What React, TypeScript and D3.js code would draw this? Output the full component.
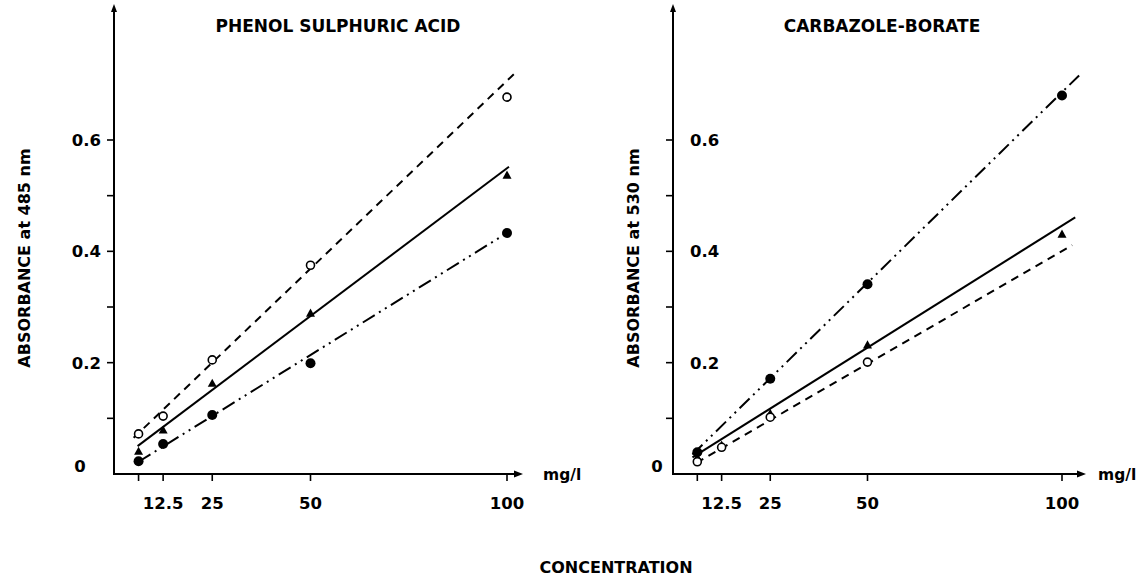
import React from "react";
import * as d3 from "d3";

const concentrations = [6.25, 12.5, 25, 50, 100];
const xTickValues = [6.25, 12.5, 25, 50, 100];
const xTickLabels = ["", "12.5", "25", "50", "100"];
const yTickValues = [0, 0.1, 0.2, 0.3, 0.4, 0.5, 0.6];
const yTickLabels = ["0", "", "0.2", "", "0.4", "", "0.6"];

// Phenol sulphuric acid (485 nm)
const phenolOpen = [0.072, 0.104, 0.205, 0.375, 0.677];
const phenolTriangle = [0.041, 0.079, 0.163, 0.289, 0.537];
const phenolFilled = [0.023, 0.054, 0.106, 0.199, 0.433];
// fitted lines: [xStart, yStart, xEnd, yEnd]
const phenolOpenLine = [5, 0.065, 102, 0.72];
const phenolTriangleLine = [6, 0.05, 100.5, 0.552];
const phenolFilledLine = [6.25, 0.022, 100, 0.433];

// Carbazole-borate (530 nm)
const carbFilled = [0.039, null, 0.171, 0.341, 0.68];
const carbTriangle = [0.03, 0.052, 0.109, 0.232, 0.431];
const carbOpen = [0.022, 0.048, 0.102, 0.201, null];
const carbFilledLine = [5, 0.035, 104.4, 0.716];
const carbTriangleLine = [5, 0.03, 103.4, 0.461];
const carbOpenLine = [6, 0.02, 102.6, 0.411];

const FONT = "'DejaVu Sans', sans-serif";
const DASHED = "8 6";
const DASHDOTDOT = "14 5 2 5 2 5";

type Series = { values: (number | null)[]; line: number[]; marker: string; dash: string | null };

function Marker({ kind, x, y }: { kind: string; x: number; y: number }) {
  if (kind === "open") return <circle cx={x} cy={y} r={4} fill="#fff" stroke="#000" strokeWidth={1.6} />;
  if (kind === "filled") return <circle cx={x} cy={y} r={5} fill="#000" />;
  const s = 4.5;
  return <path d={`M${x},${y - s}L${x + s},${y + s * 0.8}L${x - s},${y + s * 0.8}Z`} fill="#000" />;
}

function Panel(props: {
  x0: number; x100: number; yZero: number; ySixth: number; axisTop: number; axisRight: number;
  title: string; titleX: number; yLabel: string; yLabelX: number; labelsInside: boolean;
  zeroLabelX: number; unitX: number; series: Series[];
}) {
  const x = d3.scaleLinear().domain([0, 100]).range([props.x0, props.x100]);
  const y = d3.scaleLinear().domain([0, 0.6]).range([props.yZero, props.ySixth]);
  const ax = props.x0;
  const ay = props.yZero;
  return (
    <g>
      <text x={props.titleX} y={32} textAnchor="middle" fontFamily={FONT} fontWeight="bold" fontSize={17}>{props.title}</text>
      <text transform={`translate(${props.yLabelX},258) rotate(-90)`} textAnchor="middle" fontFamily={FONT} fontWeight="bold" fontSize={16}>{props.yLabel}</text>
      {/* axes */}
      <line x1={ax} y1={ay + 1} x2={ax} y2={props.axisTop + 6} stroke="#000" strokeWidth={2} />
      <path d={`M${ax},${props.axisTop}L${ax - 3},${props.axisTop + 8}L${ax + 3},${props.axisTop + 8}Z`} fill="#000" />
      <line x1={ax - 1} y1={ay} x2={props.axisRight - 6} y2={ay} stroke="#000" strokeWidth={2} />
      <path d={`M${props.axisRight},${ay}L${props.axisRight - 9},${ay - 3.5}L${props.axisRight - 9},${ay + 3.5}Z`} fill="#000" />
      {yTickValues.map((v, i) => (
        <g key={"y" + i}>
          {v > 0 && <line x1={ax - 7} x2={ax} y1={y(v)} y2={y(v)} stroke="#000" strokeWidth={1.6} />}
          {yTickLabels[i] && (
            <text
              x={v === 0 ? props.zeroLabelX : props.labelsInside ? ax + 17 : ax - 13}
              y={v === 0 ? y(v) - 2 : y(v) + 6}
              textAnchor={v === 0 ? "middle" : props.labelsInside ? "start" : "end"}
              fontFamily={FONT} fontWeight="bold" fontSize={16.5}
            >{yTickLabels[i]}</text>
          )}
        </g>
      ))}
      {xTickValues.map((v, i) => (
        <g key={"x" + i}>
          <line x1={x(v)} x2={x(v)} y1={ay} y2={ay + 7} stroke="#000" strokeWidth={1.6} />
          {xTickLabels[i] && (
            <text x={x(v)} y={509} textAnchor="middle" fontFamily={FONT} fontWeight="bold" fontSize={16.5}>{xTickLabels[i]}</text>
          )}
        </g>
      ))}
      <text x={props.unitX} y={480} fontFamily={FONT} fontWeight="bold" fontSize={15.5}>mg/l</text>
      {props.series.map((s, si) => (
        <g key={"s" + si}>
          <line
            x1={x(s.line[0])} y1={y(s.line[1])} x2={x(s.line[2])} y2={y(s.line[3])}
            stroke="#000" strokeWidth={2} strokeDasharray={s.dash ?? undefined}
          />
          {s.values.map((v, i) =>
            v === null ? null : <Marker key={i} kind={s.marker} x={x(concentrations[i])} y={y(v)} />
          )}
        </g>
      ))}
    </g>
  );
}

export default function App() {
  return (
    <svg width={1143} height={579} style={{ position: "absolute", left: 0, top: 0, background: "#fff" }}>
      <rect width={1143} height={579} fill="#fff" />
      <Panel
        x0={114} x100={507} yZero={474} ySixth={140} axisTop={4} axisRight={523}
        title="PHENOL SULPHURIC ACID" titleX={338} yLabel="ABSORBANCE at 485 nm" yLabelX={30}
        labelsInside={false} zeroLabelX={80} unitX={543}
        series={[
          { values: phenolOpen, line: phenolOpenLine, marker: "open", dash: DASHED },
          { values: phenolTriangle, line: phenolTriangleLine, marker: "triangle", dash: null },
          { values: phenolFilled, line: phenolFilledLine, marker: "filled", dash: DASHDOTDOT },
        ]}
      />
      <Panel
        x0={673} x100={1062} yZero={474} ySixth={140} axisTop={4} axisRight={1086}
        title="CARBAZOLE-BORATE" titleX={882} yLabel="ABSORBANCE at 530 nm" yLabelX={639}
        labelsInside={true} zeroLabelX={657} unitX={1098}
        series={[
          { values: carbFilled, line: carbFilledLine, marker: "filled", dash: DASHDOTDOT },
          { values: carbTriangle, line: carbTriangleLine, marker: "triangle", dash: null },
          { values: carbOpen, line: carbOpenLine, marker: "open", dash: DASHED },
        ]}
      />
      <text x={616} y={573} textAnchor="middle" fontFamily={FONT} fontWeight="bold" fontSize={16}>CONCENTRATION</text>
    </svg>
  );
}
